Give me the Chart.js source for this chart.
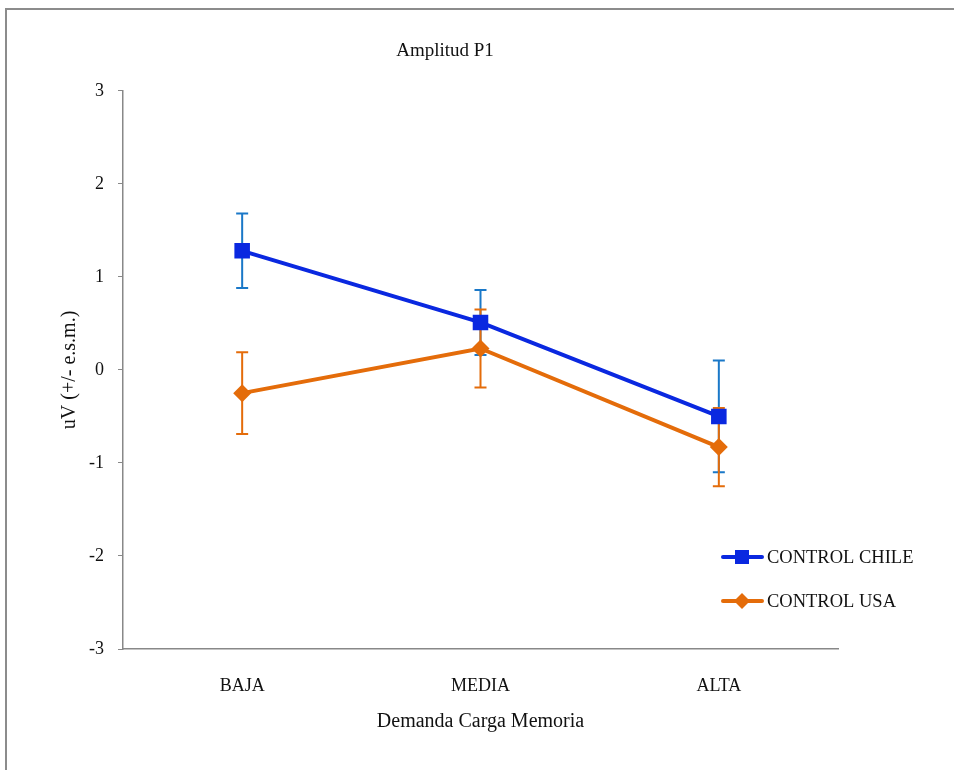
<!DOCTYPE html>
<html>
<head>
<meta charset="utf-8">
<script src="https://cdn.jsdelivr.net/npm/chart.js@4.4.0/dist/chart.umd.min.js"></script>
<style>
  html, body { margin: 0; padding: 0; background: #fff; overflow: hidden; }
  #frame { position: absolute; left: 5px; top: 8px; width: 1000px; height: 800px;
           border-left: 2px solid #8c8c8c; border-top: 2px solid #8c8c8c; }
  #wrap { position: absolute; left: 0; top: 0; width: 954px; height: 770px; }
</style>
</head>
<body>
<div id="frame"></div>
<div id="wrap"><canvas id="chart"></canvas></div>
<script>
// Data
const categories = ['BAJA', 'MEDIA', 'ALTA'];
const chileValues = [1.28, 0.51, -0.50];
const chileErrors = [0.40, 0.35, 0.60];
const usaValues = [-0.25, 0.23, -0.83];
const usaErrors = [0.44, 0.42, 0.42];
const seriesNames = ['CONTROL CHILE', 'CONTROL USA'];

const BLUE = '#0a28e0';
const BLUE_ERR = '#1a78c8';
const ORANGE = '#e46c0a';
const SERIF = "'Liberation Serif', 'DejaVu Serif', serif";

// Error bars, drawn through the chart's scales
const errorBars = {
  id: 'errorBars',
  beforeDatasetsDraw(chart) {
    const ctx = chart.ctx;
    const x = chart.scales.x, y = chart.scales.y;
    chart.data.datasets.forEach(ds => {
      ctx.save();
      ctx.strokeStyle = ds.errorColor;
      ctx.lineWidth = 2;
      ds.data.forEach((v, i) => {
        const px = x.getPixelForValue(i);
        const top = y.getPixelForValue(v + ds.errors[i]);
        const bot = y.getPixelForValue(v - ds.errors[i]);
        ctx.beginPath();
        ctx.moveTo(px, top); ctx.lineTo(px, bot);
        ctx.moveTo(px - 6, top); ctx.lineTo(px + 6, top);
        ctx.moveTo(px - 6, bot); ctx.lineTo(px + 6, bot);
        ctx.stroke();
      });
      ctx.restore();
    });
  }
};

// Legend inside the plot, bottom right
const insideLegend = {
  id: 'insideLegend',
  afterDraw(chart) {
    const ctx = chart.ctx;
    const rows = [557, 601];
    chart.data.datasets.forEach((ds, i) => {
      const yy = rows[i];
      ctx.save();
      ctx.strokeStyle = ds.borderColor;
      ctx.lineWidth = 4;
      ctx.lineCap = 'round';
      ctx.beginPath();
      ctx.moveTo(723, yy); ctx.lineTo(762, yy);
      ctx.stroke();
      ctx.fillStyle = ds.borderColor;
      if (ds.pointStyle === 'rect') {
        ctx.fillRect(735, yy - 7, 14, 14);
      } else {
        ctx.beginPath();
        ctx.moveTo(742, yy - 8); ctx.lineTo(750, yy); ctx.lineTo(742, yy + 8); ctx.lineTo(734, yy);
        ctx.closePath(); ctx.fill();
      }
      ctx.fillStyle = '#111';
      ctx.font = '18.5px ' + SERIF;
      ctx.textBaseline = 'middle';
      ctx.fillText(ds.label, 767, yy + 1);
      ctx.restore();
    });
  }
};

new Chart(document.getElementById('chart'), {
  type: 'line',
  data: {
    labels: categories,
    datasets: [
      {
        label: seriesNames[0],
        data: chileValues,
        errors: chileErrors,
        errorColor: BLUE_ERR,
        borderColor: BLUE,
        backgroundColor: BLUE,
        borderWidth: 4,
        pointStyle: 'rect',
        pointRadius: 11,
        pointBorderWidth: 0,
        tension: 0
      },
      {
        label: seriesNames[1],
        data: usaValues,
        errors: usaErrors,
        errorColor: ORANGE,
        borderColor: ORANGE,
        backgroundColor: ORANGE,
        borderWidth: 4,
        pointStyle: 'rectRot',
        pointRadius: 9,
        pointBorderWidth: 0,
        tension: 0
      }
    ]
  },
  options: {
    responsive: true,
    maintainAspectRatio: false,
    animation: false,
    layout: { padding: { left: 0, right: 64, top: 0, bottom: 0 } },
    plugins: {
      legend: { display: false },
      tooltip: { enabled: false },
      title: {
        display: true,
        text: 'Amplitud P1',
        color: '#111',
        font: { family: SERIF, size: 19, weight: 'normal' },
        padding: { top: 40, bottom: 28 }
      }
    },
    scales: {
      x: {
        offset: true,
        grid: { display: false },
        border: { display: true, color: '#888', width: 1.5 },
        ticks: { color: '#111', font: { family: SERIF, size: 18 }, padding: 18 },
        title: {
          display: true,
          text: 'Demanda Carga Memoria',
          color: '#111',
          font: { family: SERIF, size: 20 },
          padding: { top: 0, bottom: 36 }
        },
        afterFit: s => { s.height = 121; }
      },
      y: {
        min: -3,
        max: 3,
        grid: { drawOnChartArea: false, color: '#888', tickLength: 5 },
        border: { display: true, color: '#888', width: 1.5 },
        ticks: { stepSize: 1, color: '#111', font: { family: SERIF, size: 18 }, padding: 14 },
        title: {
          display: true,
          text: 'uV (+/- e.s.m.)',
          color: '#111',
          font: { family: SERIF, size: 20 },
          padding: { top: 58, bottom: 0 }
        },
        afterFit: s => { s.width = 123; }
      },
      // empty spacer on the right so the chart title sits where the reference has it
      yRight: {
        position: 'right',
        min: -3,
        max: 3,
        grid: { display: false },
        border: { display: false },
        ticks: { display: false },
        afterFit: s => { s.width = 52; }
      }
    }
  },
  plugins: [errorBars, insideLegend]
});
</script>
</body>
</html>
